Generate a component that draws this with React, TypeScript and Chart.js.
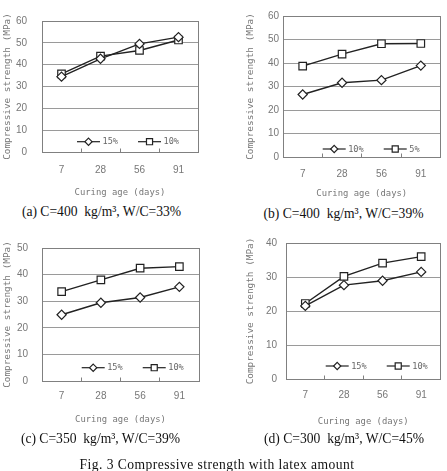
import { useEffect, useRef } from "react";
import { Chart, registerables } from "chart.js";

Chart.register(...registerables);

// Curing ages on the x axis
const curingAges = ["7", "28", "56", "91"];

// (a) C=400 kg/m³, W/C=33%
const strengthA15 = [34.5, 42.7, 49.5, 52.6];
const strengthA10 = [35.8, 43.9, 46.5, 51.3];
// (b) C=400 kg/m³, W/C=39%
const strengthB10 = [26.6, 31.6, 32.7, 38.9];
const strengthB5 = [38.7, 43.8, 48.2, 48.3];
// (c) C=350 kg/m³, W/C=39%
const strengthC15 = [24.9, 29.4, 31.4, 35.4];
const strengthC10 = [33.6, 38.0, 42.4, 43.0];
// (d) C=300 kg/m³, W/C=45%
const strengthD15 = [21.5, 27.6, 28.9, 31.5];
const strengthD10 = [22.2, 30.2, 34.1, 36.0];

const yMaxA = 60;
const yMaxB = 60;
const yMaxC = 50;
const yMaxD = 40;
const yStep = 10;

const captionA = "(a) C=400  kg/m³, W/C=33%";
const captionB = "(b) C=400  kg/m³, W/C=39%";
const captionC = "(c) C=350  kg/m³, W/C=39%";
const captionD = "(d) C=300  kg/m³, W/C=45%";
const figureCaption = "Fig. 3 Compressive strength with latex amount";

const yTitle = "Compressive strength (MPa)";
const xTitle = "Curing age (days)";

type Series = { label: string; values: number[]; marker: "rectRot" | "rect" };

type PanelSpec = {
  key: string;
  series: Series[];
  yMax: number;
  caption: string;
  canvas: { left: number; top: number; w: number; h: number };
  area: { l: number; t: number; r: number; b: number };
  yLabelRight: number;
  yTitleX: number;
  xLabelY: number;
  xTitleY: number;
  captionX: number;
  captionY: number;
  legendX: number;
  legendY: number;
};

const panels: PanelSpec[] = [
  {
    key: "a",
    series: [
      { label: "15%", values: strengthA15, marker: "rectRot" },
      { label: "10%", values: strengthA10, marker: "rect" },
    ],
    yMax: yMaxA,
    caption: captionA,
    canvas: { left: 0, top: 0, w: 224, h: 200 },
    area: { l: 42, t: 14, r: 198, b: 152 },
    yLabelRight: 27,
    yTitleX: 7.5,
    xLabelY: 170,
    xTitleY: 192.5,
    captionX: 101.5,
    captionY: 211.5,
    legendX: 77,
    legendY: 141.7,
  },
  {
    key: "b",
    series: [
      { label: "10%", values: strengthB10, marker: "rectRot" },
      { label: "5%", values: strengthB5, marker: "rect" },
    ],
    yMax: yMaxB,
    caption: captionB,
    canvas: { left: 224, top: 0, w: 223, h: 205 },
    area: { l: 283, t: 16, r: 442, b: 157 },
    yLabelRight: 279,
    yTitleX: 251,
    xLabelY: 174.3,
    xTitleY: 194,
    captionX: 343.5,
    captionY: 213.5,
    legendX: 322.7,
    legendY: 149,
  },
  {
    key: "c",
    series: [
      { label: "15%", values: strengthC15, marker: "rectRot" },
      { label: "10%", values: strengthC10, marker: "rect" },
    ],
    yMax: yMaxC,
    caption: captionC,
    canvas: { left: 0, top: 228, w: 224, h: 222 },
    area: { l: 42, t: 241, r: 199, b: 381 },
    yLabelRight: 28,
    yTitleX: 7.5,
    xLabelY: 396.7,
    xTitleY: 420,
    captionX: 100.5,
    captionY: 439,
    legendX: 81.7,
    legendY: 367.7,
  },
  {
    key: "d",
    series: [
      { label: "15%", values: strengthD15, marker: "rectRot" },
      { label: "10%", values: strengthD10, marker: "rect" },
    ],
    yMax: yMaxD,
    caption: captionD,
    canvas: { left: 224, top: 228, w: 223, h: 222 },
    area: { l: 286, t: 240, r: 442, b: 379 },
    yLabelRight: 277,
    yTitleX: 250.7,
    xLabelY: 395,
    xTitleY: 421.7,
    captionX: 344,
    captionY: 439,
    legendX: 325.7,
    legendY: 366,
  },
];

const LINE_COLOR = "#222222";
const GRID_COLOR = "#9a9a9a";
const FRAME_COLOR = "#808080";
const TEXT_COLOR = "#777777";
const SERIF = "'Liberation Serif', 'DejaVu Serif', serif";
const TICK_FONT = { family: "'Liberation Sans', Arial, sans-serif", size: 10, lineHeight: 1.2 };
const TITLE_FONT_Y = { family: "'DejaVu Sans Mono', monospace", size: 9.4, lineHeight: 1.2 };
const TITLE_FONT_X = { family: "'DejaVu Sans Mono', monospace", size: 8.9, lineHeight: 1.2 };
const DIAMOND_RADIUS = 4.6;
const SQUARE_RADIUS = 5.3;

const crisp = (p: number) => Math.round(p - 0.5) + 0.5;

function drawMarker(ctx: CanvasRenderingContext2D, style: string, x: number, y: number, r: number) {
  ctx.beginPath();
  if (style === "rectRot") {
    ctx.moveTo(x, y - r);
    ctx.lineTo(x + r, y);
    ctx.lineTo(x, y + r);
    ctx.lineTo(x - r, y);
    ctx.closePath();
  } else {
    const s = r * Math.SQRT1_2;
    ctx.rect(x - s, y - s, 2 * s, 2 * s);
  }
  ctx.fillStyle = "#ffffff";
  ctx.fill();
  ctx.stroke();
}

// Frame around the plot, short inner ticks between categories, and an in-plot legend
const panelDecor = {
  id: "panelDecor",
  beforeDatasetsDraw(chart: any) {
    const { ctx, chartArea: ca } = chart;
    ctx.save();
    ctx.strokeStyle = FRAME_COLOR;
    ctx.lineWidth = 1;
    const l = crisp(ca.left);
    const r = crisp(ca.right);
    const t = crisp(ca.top);
    const b = crisp(ca.bottom);
    ctx.strokeRect(l, t, r - l, b - t);
    const xs = chart.scales.x;
    ctx.beginPath();
    for (let i = 1; i < xs.ticks.length; i++) {
      const px = crisp((xs.getPixelForTick(i - 1) + xs.getPixelForTick(i)) / 2);
      ctx.moveTo(px, b);
      ctx.lineTo(px, b - 4);
    }
    ctx.stroke();
    ctx.restore();
  },
  afterDatasetsDraw(chart: any, _args: any, opts: any) {
    const { ctx } = chart;
    const lineLen = 23;
    const textGap = 2.5;
    const itemGap = 20;
    ctx.save();
    ctx.font = `8.6px 'DejaVu Sans Mono', monospace`;
    ctx.textBaseline = "middle";
    ctx.textAlign = "left";
    let x = opts.x;
    const y = opts.y;
    chart.data.datasets.forEach((ds: any) => {
      ctx.strokeStyle = LINE_COLOR;
      ctx.lineWidth = 1.2;
      ctx.beginPath();
      ctx.moveTo(x, y);
      ctx.lineTo(x + lineLen, y);
      ctx.stroke();
      const r = ds.pointStyle === "rectRot" ? 3.6 : 4.3;
      drawMarker(ctx, ds.pointStyle, x + lineLen / 2, y, r);
      ctx.fillStyle = "#666666";
      ctx.fillText(ds.label, x + lineLen + textGap, y + 0.5);
      x += lineLen + textGap + ctx.measureText(ds.label).width + itemGap;
    });
    ctx.restore();
  },
};

function Panel({ spec }: { spec: PanelSpec }) {
  const ref = useRef<HTMLCanvasElement>(null);

  useEffect(() => {
    const canvas = ref.current;
    if (!canvas) return;
    const c = spec.canvas;
    const a = spec.area;
    const yAxisWidth = a.l - c.left;
    const xAxisHeight = c.top + c.h - a.b;
    const tickLH = TICK_FONT.size * TICK_FONT.lineHeight;
    const titleLHX = TITLE_FONT_X.size * TITLE_FONT_X.lineHeight;
    const titleLHY = TITLE_FONT_Y.size * TITLE_FONT_Y.lineHeight;

    const chart = new Chart(canvas, {
      type: "line",
      data: {
        labels: curingAges,
        datasets: spec.series.map((s) => ({
          label: s.label,
          data: s.values,
          borderColor: LINE_COLOR,
          borderWidth: 1.4,
          pointStyle: s.marker,
          pointRadius: s.marker === "rectRot" ? DIAMOND_RADIUS : SQUARE_RADIUS,
          pointBackgroundColor: "#ffffff",
          pointBorderColor: LINE_COLOR,
          pointBorderWidth: 1.2,
          tension: 0,
          fill: false,
        })),
      },
      options: {
        animation: false,
        responsive: false,
        maintainAspectRatio: false,
        devicePixelRatio: 1,
        layout: {
          padding: {
            left: 0,
            top: a.t - c.top,
            right: c.left + c.w - a.r,
            bottom: 0,
          },
        },
        plugins: {
          legend: { display: false },
          tooltip: { enabled: false },
          panelDecor: { x: spec.legendX - c.left, y: spec.legendY - c.top },
        } as any,
        scales: {
          x: {
            type: "category",
            offset: true,
            grid: { display: false, drawTicks: false },
            border: { display: false },
            ticks: {
              color: TEXT_COLOR,
              font: TICK_FONT,
              padding: spec.xLabelY - a.b - tickLH / 2,
              maxRotation: 0,
            },
            title: {
              display: true,
              text: xTitle,
              color: TEXT_COLOR,
              font: TITLE_FONT_X,
              padding: { top: 0, bottom: c.top + c.h - spec.xTitleY - titleLHX / 2 },
            },
            afterFit: (scale: any) => {
              scale.height = xAxisHeight;
            },
          },
          y: {
            min: 0,
            max: spec.yMax,
            grid: { color: GRID_COLOR, lineWidth: 1, drawTicks: false },
            border: { display: false },
            ticks: {
              stepSize: yStep,
              color: TEXT_COLOR,
              font: TICK_FONT,
              padding: a.l - spec.yLabelRight,
            },
            title: {
              display: true,
              text: yTitle,
              color: TEXT_COLOR,
              font: TITLE_FONT_Y,
              padding: { top: spec.yTitleX - c.left - titleLHY / 2, bottom: 0 },
            },
            afterFit: (scale: any) => {
              scale.width = yAxisWidth;
            },
          },
        },
      } as any,
      plugins: [panelDecor],
    });
    return () => chart.destroy();
  }, [spec]);

  return (
    <>
      <canvas
        ref={ref}
        width={spec.canvas.w}
        height={spec.canvas.h}
        style={{
          position: "absolute",
          left: spec.canvas.left,
          top: spec.canvas.top,
          width: spec.canvas.w,
          height: spec.canvas.h,
        }}
      />
      <div
        style={{
          position: "absolute",
          left: spec.captionX,
          top: spec.captionY,
          transform: "translate(-50%, -50%)",
          whiteSpace: "pre",
          fontFamily: SERIF,
          fontSize: 13.6,
          lineHeight: 1,
          color: "#111",
        }}
      >
        {spec.caption}
      </div>
    </>
  );
}

export default function App() {
  return (
    <div
      style={{
        position: "absolute",
        left: 0,
        top: 0,
        width: 447,
        height: 471,
        background: "#ffffff",
        overflow: "hidden",
      }}
    >
      {panels.map((p) => (
        <Panel key={p.key} spec={p} />
      ))}
      <div
        style={{
          position: "absolute",
          left: 217,
          top: 465,
          transform: "translate(-50%, -50%)",
          whiteSpace: "pre",
          fontFamily: SERIF,
          fontSize: 13.6,
          letterSpacing: 0.45,
          lineHeight: 1,
          color: "#111",
        }}
      >
        {figureCaption}
      </div>
    </div>
  );
}
